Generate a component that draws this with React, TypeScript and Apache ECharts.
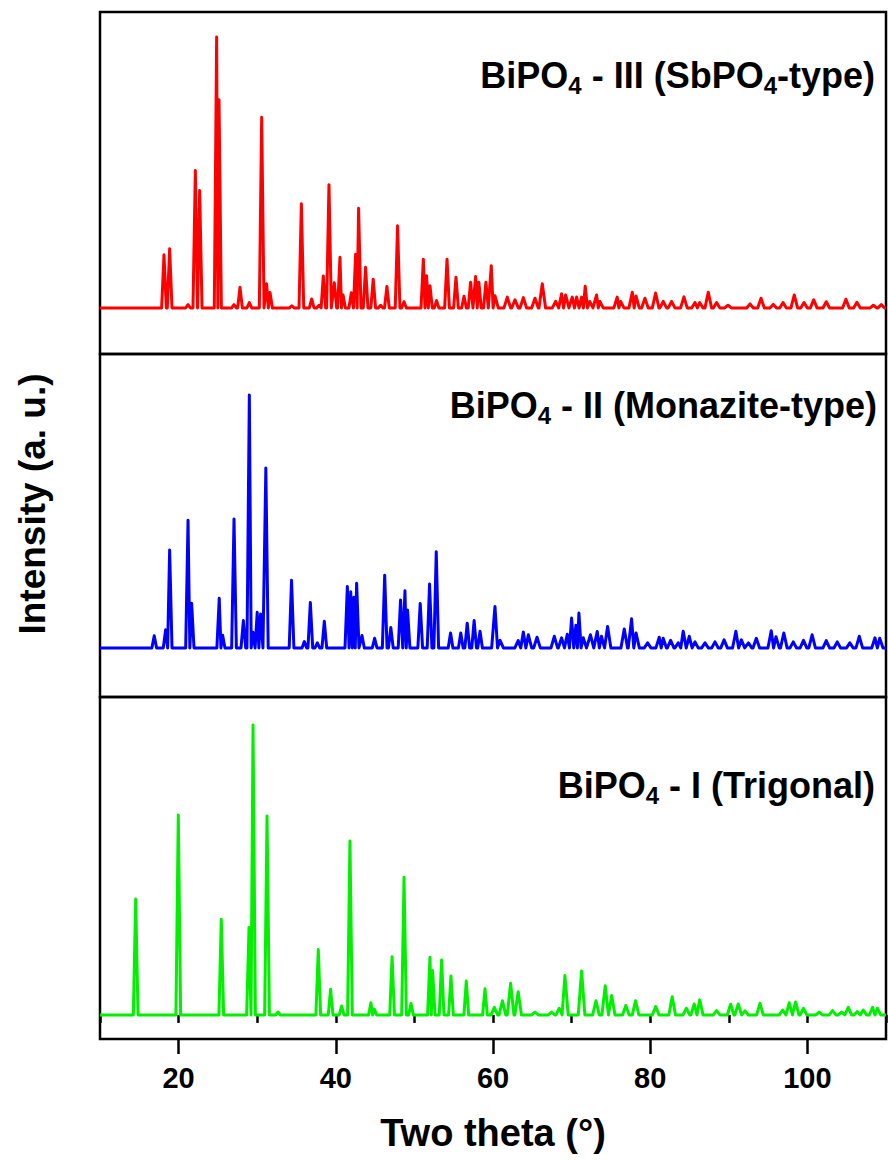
import React, { useEffect, useRef } from "react";
import * as echarts from "echarts";

// Two-theta range shared by all three panels
const X_MIN = 10;
const X_MAX = 110;
const MAJOR_TICKS = [20, 40, 60, 80, 100];

// Reflections: [two theta (deg), relative intensity]
const bipo4IIIPeaks: [number, number][] = [
  [18.14, 19.6], [18.86, 21.8], [21.2, 1.2], [22.13, 50.7], [22.68, 43.3], [24.84, 100], [25.14, 76.8],
  [27.05, 1.2], [27.81, 7.6], [29.0, 2], [30.57, 70.4], [31.2, 8.9], [31.63, 5.7], [34.4, 0.8],
  [35.62, 38.4], [36.93, 3.3], [37.86, 1], [38.41, 11.8], [39.13, 45.5], [39.81, 9.3], [40.53, 18.7],
  [40.92, 4.8], [41.97, 5.6], [42.52, 19.8], [42.9, 36.8], [43.79, 15], [44.76, 10.6], [45.7, 1],
  [46.5, 7.9], [47.86, 30.3], [48.68, 2.3], [51.14, 18], [51.55, 11.9], [51.98, 8.2], [52.82, 2.7],
  [54.15, 18], [55.29, 11.3], [56.31, 4.3], [57.15, 9.5], [57.79, 11.6], [58.2, 9.5], [59.1, 9.5],
  [59.78, 15.6], [60.25, 4.5], [61.82, 4], [62.8, 3], [63.86, 3.8], [65.34, 3.6], [66.27, 8.9],
  [67.97, 2.4], [68.73, 5.2], [69.24, 4.8], [70.08, 4], [70.64, 4], [71.27, 4], [71.73, 8], [72.3, 2.4],
  [73.18, 4.8], [73.6, 2.4], [75.8, 4], [76.24, 2.4], [77.72, 5.8], [78.19, 4.4], [79.33, 3.6],
  [80.69, 5.5], [81.66, 2.4], [82.72, 2.4], [84.29, 4.1], [85.7, 2], [86.3, 2], [87.39, 5.8],
  [88.45, 2], [89.9, 1], [92.7, 1.5], [94.1, 3.6], [95.66, 1.3], [96.9, 2], [98.33, 4.8], [99.57, 2],
  [100.8, 3], [102.4, 2.3], [104.9, 3.2], [106.3, 2.1], [108.4, 1], [109.4, 1.2],
];

const bipo4IIPeaks: [number, number][] = [
  [16.9, 4.8], [18.35, 7.2], [18.86, 38.7], [21.2, 50.5], [21.66, 17.7], [25.17, 19.6], [25.6, 5],
  [27.05, 51], [28.24, 10.8], [29.0, 100], [29.47, 6.2], [30.0, 14.1], [30.43, 13.4], [31.1, 71.1],
  [34.37, 26.8], [36.0, 2.5], [36.76, 18], [37.65, 2], [38.54, 10.5], [41.47, 24.3], [41.9, 22.2],
  [42.3, 20], [42.65, 25.6], [43.33, 4.9], [44.94, 3.8], [46.22, 28.7], [47.0, 8.1], [48.24, 18.9],
  [48.8, 22.6], [49.13, 15], [50.74, 17.6], [51.93, 25.3], [52.78, 38], [54.6, 5.9], [55.9, 5.9],
  [56.72, 9.8], [57.6, 10.8], [58.35, 6.6], [60.25, 16.4], [60.9, 3], [63.2, 2.9], [63.86, 6.3],
  [64.5, 5.2], [65.6, 4.2], [67.8, 4.6], [68.73, 4], [69.45, 5.4], [70.0, 11.8], [70.55, 9],
  [70.93, 13.8], [71.48, 4], [72.4, 5.2], [73.26, 6.5], [73.8, 4.6], [74.58, 8.5], [76.7, 7.5],
  [77.63, 11.5], [78.2, 5.9], [79.67, 2], [81.15, 4.2], [81.65, 3.8], [82.6, 3], [83.57, 2],
  [84.2, 6.6], [84.97, 4.6], [85.7, 2.4], [86.97, 2], [88.24, 2.4], [89.4, 3.2], [90.9, 6.6],
  [91.6, 3.2], [92.5, 2], [93.5, 3.8], [95.4, 6.8], [96.0, 4.4], [97.0, 5.9], [98.2, 2.4], [99.5, 3],
  [100.6, 5.2], [102.4, 2.9], [103.8, 2.4], [105.4, 2], [106.6, 4.6], [108.6, 4], [109.2, 3.8],
];

const bipo4IPeaks: [number, number][] = [
  [14.54, 40], [19.96, 69], [25.43, 33], [28.96, 30.2], [29.47, 100], [31.25, 68.6], [32.65, 1],
  [37.77, 22.6], [39.34, 8.9], [40.74, 3.1], [41.8, 60], [44.47, 4.2], [44.9, 2], [47.16, 20.1],
  [48.68, 47.5], [49.57, 4], [51.98, 19.9], [52.32, 15.3], [53.46, 19], [54.65, 13.4], [56.6, 11.7],
  [58.98, 9], [60.17, 2.6], [61.2, 4.9], [62.24, 10.9], [63.2, 8], [65.34, 1], [67.45, 1],
  [68.43, 2.3], [69.15, 13.6], [71.27, 15.2], [73.1, 4.9], [74.28, 10.1], [75.1, 6.7], [76.9, 3.3],
  [78.14, 4.9], [80.7, 2.9], [82.8, 6.3], [84.6, 2.3], [85.6, 3.8], [86.3, 5.2], [88.45, 1.5],
  [90.23, 3.7], [91.2, 3.8], [92.06, 1.4], [93.97, 4], [96.85, 1.7], [97.7, 4.2], [98.5, 4.5],
  [99.5, 2.3], [101.5, 1], [103.2, 1.5], [104.35, 1], [105.2, 2.6], [106.35, 1.2], [107.1, 1.7],
  [108.3, 2.6], [108.9, 2.3],
];

// Panel labels (rich-text markup: b = body, s = subscript)
const labelIII = "{b|BiPO}{s|4}{b| - III (SbPO}{s|4}{b|-type)}";
const labelII = "{b|BiPO}{s|4}{b| - II (Monazite-type)}";
const labelI = "{b|BiPO}{s|4}{b| - I (Trigonal)}";

const FONT = "'Liberation Sans', Arial, Helvetica, sans-serif";

// Each reflection is drawn as a narrow spike standing on the zero baseline.
function toProfile(peaks: [number, number][]): number[][] {
  const sorted = [...peaks].sort((a, b) => a[0] - b[0]);
  const pts: number[][] = [[X_MIN, 0]];
  sorted.forEach(([pos, h], i) => {
    const hw = pos < 60 ? 0.3 : 0.42;
    const prev = i > 0 ? sorted[i - 1][0] : -Infinity;
    const next = i < sorted.length - 1 ? sorted[i + 1][0] : Infinity;
    const left = Math.max(pos - hw, (prev + pos) / 2);
    const right = Math.min(pos + hw, (pos + next) / 2);
    pts.push([left, 0], [pos, h], [right, 0]);
  });
  pts.push([X_MAX, 0]);
  return pts;
}

const richStyles = {
  b: { fontSize: 36, fontWeight: "bold", fontFamily: FONT, color: "#000", lineHeight: 44 },
  s: { fontSize: 24, fontWeight: "bold", fontFamily: FONT, color: "#000", lineHeight: 22, verticalAlign: "bottom" },
};

export default function App() {
  const ref = useRef<HTMLDivElement>(null);

  useEffect(() => {
    if (!ref.current) return;
    const chart = echarts.init(ref.current, null, { renderer: "svg" });

    const panels = [
      { top: 12, height: 342, yMin: -17, yMax: 109.2 },
      { top: 354, height: 343, yMin: -19.4, yMax: 116.2 },
      { top: 697, height: 342, yMin: -8.3, yMax: 109.7 },
    ];

    const grid = panels.map((p) => ({
      left: 100,
      right: 2,
      top: p.top,
      height: p.height,
      show: true,
      borderColor: "#000",
      borderWidth: 2.5,
      backgroundColor: "transparent",
      outerBoundsMode: "none",
    }));

    const hiddenX = (gi: number) => ({
      type: "value",
      gridIndex: gi,
      min: X_MIN,
      max: X_MAX,
      show: false,
    });

    const xAxis: any[] = [
      hiddenX(0),
      hiddenX(1),
      // minor ticks every 10 degrees
      {
        type: "value",
        gridIndex: 2,
        min: X_MIN,
        max: X_MAX,
        interval: 10,
        axisLine: { show: false },
        axisTick: { show: true, inside: false, length: 8, lineStyle: { color: "#000", width: 2.5 } },
        axisLabel: { show: false },
        splitLine: { show: false },
      },
      // major ticks and labels
      {
        type: "value",
        gridIndex: 2,
        min: X_MIN,
        max: X_MAX,
        position: "bottom",
        axisLine: { show: false },
        axisTick: {
          show: true,
          inside: false,
          length: 15,
          customValues: MAJOR_TICKS,
          lineStyle: { color: "#000", width: 2.5 },
        },
        axisLabel: {
          show: true,
          customValues: MAJOR_TICKS,
          margin: 24,
          fontSize: 29,
          fontWeight: "bold",
          fontFamily: FONT,
          color: "#000",
        },
        splitLine: { show: false },
      },
    ];

    const yAxis = panels.map((p, i) => ({
      type: "value",
      gridIndex: i,
      min: p.yMin,
      max: p.yMax,
      show: false,
    }));

    const lineSeries = (data: number[][], color: string, xi: number, yi: number) => ({
      type: "line",
      xAxisIndex: xi,
      yAxisIndex: yi,
      data,
      showSymbol: false,
      symbol: "none",
      clip: true,
      lineStyle: { color, width: 3, join: "round" },
      silent: true,
    });

    chart.setOption({
      animation: false,
      backgroundColor: "#fff",
      grid,
      xAxis,
      yAxis,
      series: [
        lineSeries(toProfile(bipo4IIIPeaks), "#ff0000", 0, 0),
        lineSeries(toProfile(bipo4IIPeaks), "#0000ff", 1, 1),
        lineSeries(toProfile(bipo4IPeaks), "#00f000", 2, 2),
      ],
      graphic: [
        {
          type: "text",
          x: 875,
          y: 75,
          style: { text: labelIII, rich: richStyles, align: "right", verticalAlign: "middle" },
        },
        {
          type: "text",
          x: 877,
          y: 405,
          style: { text: labelII, rich: richStyles, align: "right", verticalAlign: "middle" },
        },
        {
          type: "text",
          x: 875,
          y: 785,
          style: { text: labelI, rich: richStyles, align: "right", verticalAlign: "middle" },
        },
        {
          type: "text",
          x: 32,
          y: 504,
          rotation: Math.PI / 2,
          style: {
            text: "Intensity (a. u.)",
            fontSize: 37,
            fontWeight: "bold",
            fontFamily: FONT,
            fill: "#000",
            align: "center",
            verticalAlign: "middle",
          },
        },
        {
          type: "text",
          x: 493,
          y: 1133,
          style: {
            text: "Two theta (°)",
            fontSize: 38,
            fontWeight: "bold",
            fontFamily: FONT,
            fill: "#000",
            align: "center",
            verticalAlign: "middle",
          },
        },
      ],
    });

    return () => chart.dispose();
  }, []);

  return (
    <div
      ref={ref}
      style={{ position: "fixed", left: 0, top: 0, width: 888, height: 1160, background: "#fff" }}
    />
  );
}
